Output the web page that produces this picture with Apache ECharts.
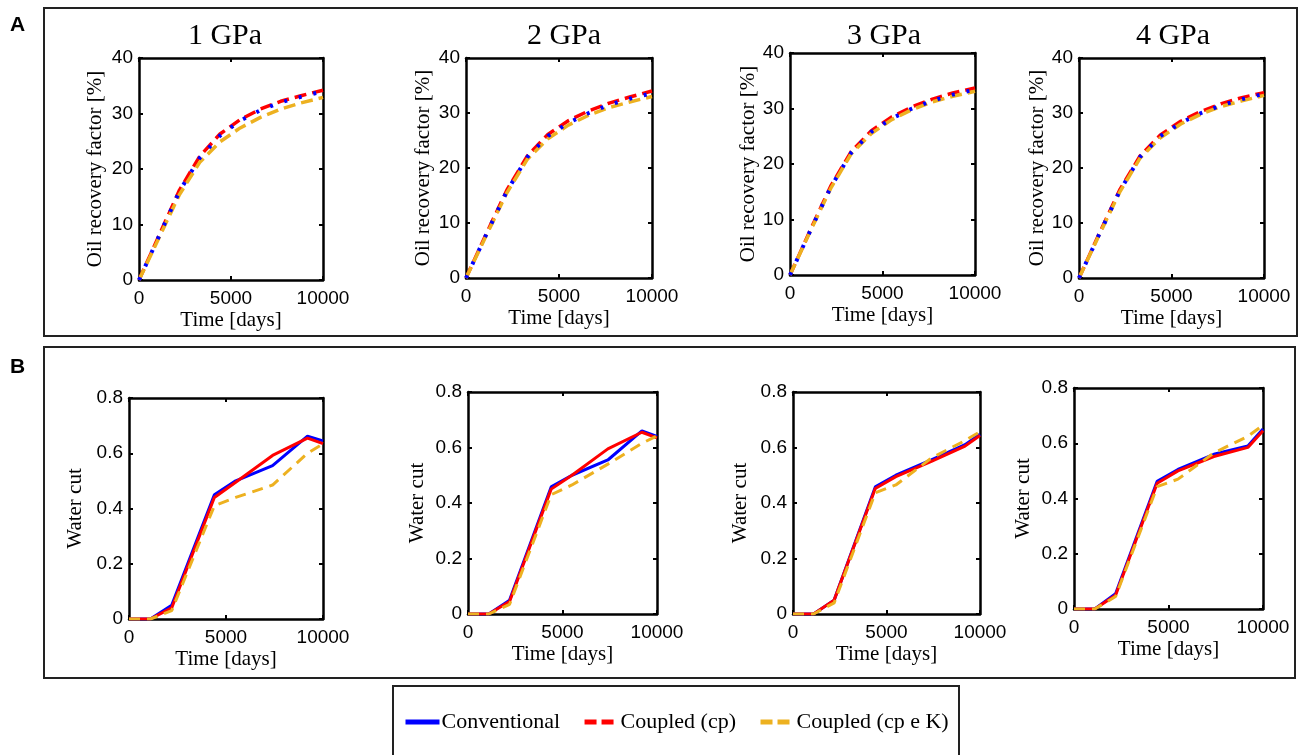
<!DOCTYPE html>
<html>
<head>
<meta charset="utf-8">
<script src="https://cdn.jsdelivr.net/npm/echarts@6/dist/echarts.min.js"></script>
<style>
  html, body { margin: 0; padding: 0; background: #fff; }
  #chart { width: 1302px; height: 755px; }
</style>
</head>
<body>
<div id="chart"></div>
<script>
// ---- data ----
const pressures = ['1 GPa', '2 GPa', '3 GPa', '4 GPa'];
const seriesNames = ['Conventional', 'Coupled (cp)', 'Coupled (cp e K)'];

// Oil recovery factor [%]
const orTime = [0, 1100, 2200, 3300, 4400, 5500, 6600, 7700, 8800, 10000];
const orConv1 = [0, 8, 16, 22, 26, 28.7, 30.6, 32, 33, 34];
const orCp1 = [0, 8.1, 16.2, 22.3, 26.3, 28.9, 30.8, 32.2, 33.2, 34.2];
const orCpK1 = [0, 7.7, 15.4, 21.2, 24.9, 27.4, 29.3, 30.8, 31.9, 32.9];
const orConv2 = [0, 8, 15.8, 22, 25.8, 28.2, 30, 31.5, 32.6, 33.6];
const orCp2 = [0, 8.1, 16, 22.2, 26.1, 28.6, 30.4, 31.8, 32.9, 34];
const orCpK2 = [0, 7.8, 15.5, 21.6, 25.3, 27.8, 29.6, 31, 32, 33];
const orConv3 = [0, 8, 15.8, 22, 25.8, 28.2, 30, 31.4, 32.5, 33.4];
const orCp3 = [0, 8.1, 16, 22.2, 26, 28.5, 30.3, 31.7, 32.8, 33.7];
const orCpK3 = [0, 7.9, 15.6, 21.8, 25.5, 28, 29.8, 31.2, 32.2, 33.1];
const orConv4 = [0, 8, 15.8, 22, 25.8, 28.2, 30, 31.4, 32.5, 33.5];
const orCp4 = [0, 8.1, 16, 22.2, 26, 28.5, 30.3, 31.7, 32.8, 33.7];
const orCpK4 = [0, 7.9, 15.6, 21.8, 25.5, 28, 29.8, 31.2, 32.2, 33.2];

// Water cut
const wcTime = [0, 1100, 2200, 4400, 5500, 7400, 9200, 10000];
const wcConv1 = [0, 0, 0.05, 0.45, 0.5, 0.555, 0.662, 0.645];
const wcCp1 = [0, 0, 0.04, 0.44, 0.495, 0.592, 0.655, 0.635];
const wcCpK1 = [0, 0, 0.03, 0.41, 0.44, 0.485, 0.6, 0.634];
const wcConv2 = [0, 0, 0.05, 0.458, 0.5, 0.555, 0.66, 0.64];
const wcCp2 = [0, 0, 0.045, 0.45, 0.5, 0.595, 0.655, 0.635];
const wcCpK2 = [0, 0, 0.035, 0.43, 0.465, 0.54, 0.615, 0.642];
const wcConv3 = [0, 0, 0.05, 0.458, 0.5, 0.555, 0.61, 0.648];
const wcCp3 = [0, 0, 0.05, 0.452, 0.495, 0.55, 0.605, 0.643];
const wcCpK3 = [0, 0, 0.04, 0.437, 0.465, 0.562, 0.625, 0.657];
const wcConv4 = [0, 0, 0.055, 0.462, 0.505, 0.56, 0.59, 0.652];
const wcCp4 = [0, 0, 0.05, 0.455, 0.5, 0.552, 0.585, 0.645];
const wcCpK4 = [0, 0, 0.045, 0.443, 0.47, 0.565, 0.625, 0.665];

const orData = [
    [orConv1, orCp1, orCpK1], [orConv2, orCp2, orCpK2],
    [orConv3, orCp3, orCpK3], [orConv4, orCp4, orCpK4]
];
const wcData = [
    [wcConv1, wcCp1, wcCpK1], [wcConv2, wcCp2, wcCpK2],
    [wcConv3, wcCp3, wcCpK3], [wcConv4, wcCp4, wcCpK4]
];

// ---- layout (pixel boxes of each axes) ----
const topGrids = [
    { left: 139, top: 58, width: 184, height: 222 },
    { left: 466, top: 58, width: 186, height: 220 },
    { left: 790, top: 53, width: 185, height: 222 },
    { left: 1079, top: 58, width: 185, height: 220 }
];
const topNameGaps = [33, 32, 31, 30];
const titleCenters = [220, 559, 879, 1168];
const bottomGrids = [
    { left: 129, top: 398, width: 194, height: 221 },
    { left: 468, top: 392, width: 189, height: 222 },
    { left: 793, top: 392, width: 187, height: 222 },
    { left: 1074, top: 388, width: 189, height: 221 }
];
const bottomNameGaps = [43, 40, 42, 40];

const SERIF = 'Liberation Serif';
const SANS = 'Liberation Sans';
const BLUE = '#0000ff', RED = '#ff0000', YELLOW = '#edb120';

const grid = [], xAxis = [], yAxis = [], series = [], title = [];

// one axes box: bottom/left real axes + top/right mirrored tick axes
const addAxes = (box, yMax, yStep, yName, yGap) => {
    const g = grid.length;
    grid.push(Object.assign({ containLabel: false }, box));
    const line = { show: true, onZero: false, lineStyle: { color: '#000', width: 2.5 } };
    const tick = { show: true, inside: true, length: 4, lineStyle: { color: '#000', width: 2 } };
    const label = { color: '#000', fontFamily: SANS, fontSize: 19, formatter: v => String(v) };
    const nameStyle = { fontFamily: SERIF, fontSize: 21, color: '#000' };
    xAxis.push({
        gridIndex: g, type: 'value', min: 0, max: 10000, interval: 5000,
        axisLine: line, axisTick: tick, splitLine: { show: false },
        axisLabel: Object.assign({ margin: 9 }, label),
        name: 'Time [days]', nameLocation: 'middle', nameGap: 30, nameTextStyle: nameStyle
    });
    xAxis.push({
        gridIndex: g, type: 'value', position: 'top', min: 0, max: 10000, interval: 5000,
        axisLine: line, axisTick: tick, splitLine: { show: false }, axisLabel: { show: false }
    });
    yAxis.push({
        gridIndex: g, type: 'value', min: 0, max: yMax, interval: yStep,
        axisLine: line, axisTick: tick, splitLine: { show: false },
        axisLabel: Object.assign({ margin: 6 }, label),
        name: yName, nameLocation: 'middle', nameGap: yGap, nameTextStyle: nameStyle
    });
    yAxis.push({
        gridIndex: g, type: 'value', position: 'right', min: 0, max: yMax, interval: yStep,
        axisLine: line, axisTick: tick, splitLine: { show: false }, axisLabel: { show: false }
    });
    return g;
};

const pairs = (t, v) => t.map((x, i) => [x, v[i]]);

const addLine = (g, name, data, color, type, width, z) => {
    series.push({
        name: name, type: 'line', xAxisIndex: 2 * g, yAxisIndex: 2 * g,
        data: data, symbol: 'none', z: z, animation: false,
        lineStyle: { color: color, type: type, width: width },
        itemStyle: { color: color }
    });
};

// bottom row first so the legend picks up the solid blue line
bottomGrids.forEach((box, i) => {
    const g = addAxes(box, 0.8, 0.2, 'Water cut', bottomNameGaps[i]);
    const d = wcData[i];
    addLine(g, seriesNames[0], pairs(wcTime, d[0]), BLUE, 'solid', 3, 2);
    addLine(g, seriesNames[1], pairs(wcTime, d[1]), RED, 'solid', 3, 3);
    addLine(g, seriesNames[2], pairs(wcTime, d[2]), YELLOW, [11, 7], 3, 4);
});

topGrids.forEach((box, i) => {
    const g = addAxes(box, 40, 10, 'Oil recovery factor [%]', topNameGaps[i]);
    const d = orData[i];
    addLine(g, seriesNames[1], pairs(orTime, d[1]), RED, [12, 6], 3.5, 2);
    addLine(g, seriesNames[2], pairs(orTime, d[2]), YELLOW, [12, 6], 3.5, 3);
    addLine(g, seriesNames[0], pairs(orTime, d[0]), BLUE, [3, 12], 4, 4);
    title.push({
        text: pressures[i], left: titleCenters[i], top: 16, textAlign: 'center',
        textStyle: { fontFamily: SERIF, fontSize: 30, fontWeight: 'normal', color: '#000' }
    });
});

const chart = echarts.init(document.getElementById('chart'));

const legendItem = (name, type) => ({
    name: name,
    itemStyle: { opacity: 0 },
    lineStyle: { type: type, width: 5 }
});

chart.setOption({
    backgroundColor: '#fff',
    animation: false,
    title: title,
    grid: grid,
    xAxis: xAxis,
    yAxis: yAxis,
    series: series,
    legend: {
        left: 403, top: 711, padding: 0, itemWidth: 34, itemHeight: 14, itemGap: 22,
        selectedMode: false,
        textStyle: { fontFamily: SERIF, fontSize: 22, color: '#000', padding: [0, 0, 0, -3] },
        data: [
            legendItem(seriesNames[0], 'solid'),
            legendItem(seriesNames[1], [12, 5]),
            legendItem(seriesNames[2], [12, 5])
        ]
    },
    graphic: [
        { type: 'rect', shape: { x: 44, y: 8, width: 1253, height: 328 },
          style: { fill: 'none', stroke: '#222', lineWidth: 2 } },
        { type: 'rect', shape: { x: 44, y: 347, width: 1251, height: 331 },
          style: { fill: 'none', stroke: '#222', lineWidth: 2 } },
        { type: 'rect', shape: { x: 393, y: 686, width: 566, height: 80 },
          style: { fill: 'none', stroke: '#222', lineWidth: 2 } },
        { type: 'text', left: 10, top: 15,
          style: { text: 'A', font: 'bold 21px "Liberation Sans"', fill: '#000' } },
        { type: 'text', left: 10, top: 357,
          style: { text: 'B', font: 'bold 21px "Liberation Sans"', fill: '#000' } }
    ]
});

window.addEventListener('resize', () => chart.resize());
</script>
</body>
</html>
